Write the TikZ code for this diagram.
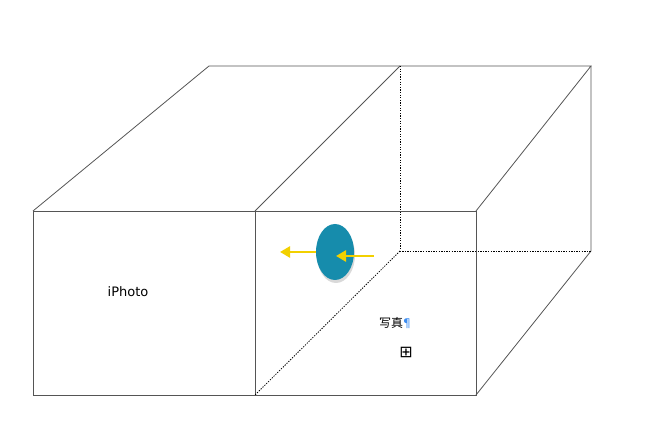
\documentclass[tikz,border=0pt]{standalone}
\usepackage{fontspec}
\setmainfont{DejaVu Sans}
\newfontfamily\cjk{Noto Sans CJK SC}
\usepackage{tikz}
\usetikzlibrary{arrows.meta,positioning,shadows,shapes.geometric}
\definecolor{arista}{RGB}{85,85,85}
\definecolor{bola}{RGB}{22,140,172}
\definecolor{flecha}{RGB}{242,208,0}
\definecolor{marca}{RGB}{60,140,240}
\tikzstyle{borde}=[draw=arista,line width=0.8pt]
\tikzstyle{oculto}=[draw=black,line width=0.8pt,dash pattern=on 1.3pt off 1.3pt]
\tikzstyle{mov}=[draw=flecha,line width=2.8pt,-{Triangle[length=10pt,width=11pt]}]
\tikzstyle{etiqueta}=[inner sep=0pt,font=\fontsize{13}{15}\selectfont]

\begin{document}
\begin{tikzpicture}[x=1pt,y=-1pt]
	\useasboundingbox (0,0) rectangle (649,443);
	% esquinas de la caja
	\coordinate (fsi) at (33,211);
	\coordinate (fsm) at (255,211);
	\coordinate (fsd) at (476,211);
	\coordinate (fii) at (33,395);
	\coordinate (fim) at (255,395);
	\coordinate (fid) at (476,395);
	\coordinate (tsi) at (209,66);
	\coordinate (tsm) at (400,66);
	\coordinate (tsd) at (591,66);
	\coordinate (tim) at (400,251);
	\coordinate (tid) at (591,251);

	\draw[borde] (fsi) -- (fsd) -- (fid) -- (fii) -- cycle;
	\draw[borde] (fsm) -- (fim);
	\draw[borde] (fsi) -- (tsi) -- (tsd) -- (fsd);
	\draw[borde] (fsm) -- (tsm);
	\draw[borde] (tsd) -- (tid) -- (fid);
	\draw[oculto] (tsm) -- (tim) -- (tid);
	\draw[oculto] (tim) -- (fim);

	% textos
	\node[etiqueta] (iphoto) at (128,292) {iPhoto};
	\node[etiqueta,font=\fontsize{12}{14}\selectfont] (foto) at (395,323) {{\cjk 写真}\textcolor{marca}{¶}};
	\node[etiqueta,font=\fontsize{16}{18}\selectfont] (ancla) at (406,352) {⊞};

	% la bola y sus flechas
	\node[ellipse,fill=bola,minimum width=38pt,minimum height=56pt,inner sep=0pt,
		drop shadow={shadow xshift=1pt,shadow yshift=-3pt,opacity=0.3}]
		(bola) at (335,252) {};
	\coordinate (izq) at (280,252);
	\coordinate (der) at (374,256);
	\coordinate (centro) at (336,256);
	\draw[mov] (bola.west) -- (izq);
	\draw[mov] (der) -- (centro);
\end{tikzpicture}
\end{document}
